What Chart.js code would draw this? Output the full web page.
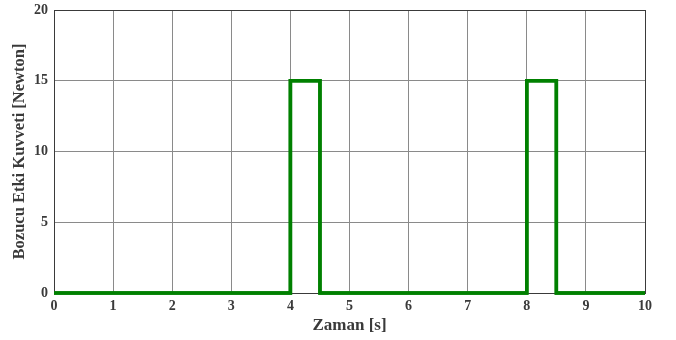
<!DOCTYPE html>
<html>
<head>
<meta charset="utf-8">
<script src="https://cdn.jsdelivr.net/npm/chart.js@4.4.1/dist/chart.umd.min.js"></script>
<style>
  html, body { margin: 0; padding: 0; background: #ffffff; }
  #wrap { width: 676px; height: 340px; position: relative; }
</style>
</head>
<body>
<div id="wrap"><canvas id="c" width="676" height="340"></canvas></div>
<script>
// Disturbance force pulses over time (step signal)
const timeValues  = [0, 4, 4, 4.5, 4.5, 8, 8, 8.5, 8.5, 10];
const forceValues = [0, 0, 15, 15, 0, 0, 15, 15, 0, 0];
const xTicks = [0, 1, 2, 3, 4, 5, 6, 7, 8, 9, 10];
const yTicks = [0, 5, 10, 15, 20];

const points = timeValues.map((t, i) => ({ x: t, y: forceValues[i] }));

const serif = '"Liberation Serif", "Times New Roman", serif';
const tickFont   = { family: serif, size: 14, weight: 'bold' };
const xTitleFont = { family: serif, size: 17, weight: 'bold' };
const yTitleFont = { family: serif, size: 16.5, weight: 'bold' };

// Dark frame around the plotting area
const frame = {
  id: 'frame',
  afterDraw(chart) {
    const { ctx, chartArea: a } = chart;
    ctx.save();
    ctx.strokeStyle = '#3a3a3a';
    ctx.lineWidth = 1;
    ctx.strokeRect(Math.round(a.left) + 0.5, Math.round(a.top) + 0.5,
                   Math.round(a.right - a.left), Math.round(a.bottom - a.top));
    ctx.restore();
  }
};

// Redraw the dataset on top of the frame so the baseline stays green
const lineOnTop = {
  id: 'lineOnTop',
  afterDraw(chart) {
    chart.getDatasetMeta(0).controller.draw();
  }
};

// Fixed scale sizes; edge padding comes from the layout only
function fixScale(size) {
  return function (scale) {
    if (scale.isHorizontal()) scale.height = size; else scale.width = size;
    scale.paddingTop = 0; scale.paddingBottom = 0;
    scale.paddingLeft = 0; scale.paddingRight = 0;
  };
}

new Chart(document.getElementById('c'), {
  type: 'line',
  data: {
    datasets: [{
      data: points,
      borderColor: '#008000',
      borderWidth: 3.5,
      pointRadius: 0,
      tension: 0,
      fill: false,
      clip: false
    }]
  },
  options: {
    responsive: false,
    animation: false,
    layout: { padding: { top: 10, right: 31, left: 0, bottom: 0 } },
    plugins: { legend: { display: false }, tooltip: { enabled: false } },
    scales: {
      x: {
        type: 'linear',
        min: 0, max: 10,
        afterBuildTicks(scale) { scale.ticks = xTicks.map(v => ({ value: v })); },
        afterFit: fixScale(47),
        grid: { color: '#8a8a8a', lineWidth: 1, drawTicks: false },
        border: { display: false },
        ticks: { font: tickFont, color: '#3a3a3a', padding: 5, maxRotation: 0, autoSkip: false },
        title: { display: true, text: 'Zaman [s]', font: xTitleFont, color: '#3a3a3a', padding: { top: 0, bottom: 4 } }
      },
      y: {
        min: 0, max: 20,
        afterBuildTicks(scale) { scale.ticks = yTicks.map(v => ({ value: v })); },
        afterFit: fixScale(54),
        grid: { color: '#8a8a8a', lineWidth: 1, drawTicks: false },
        border: { display: false },
        ticks: { font: tickFont, color: '#3a3a3a', padding: 6 },
        title: { display: true, text: 'Bozucu Etki Kuvveti [Newton]', font: yTitleFont, color: '#3a3a3a', padding: { top: 10, bottom: 0 } }
      }
    }
  },
  plugins: [frame, lineOnTop]
});
</script>
</body>
</html>
